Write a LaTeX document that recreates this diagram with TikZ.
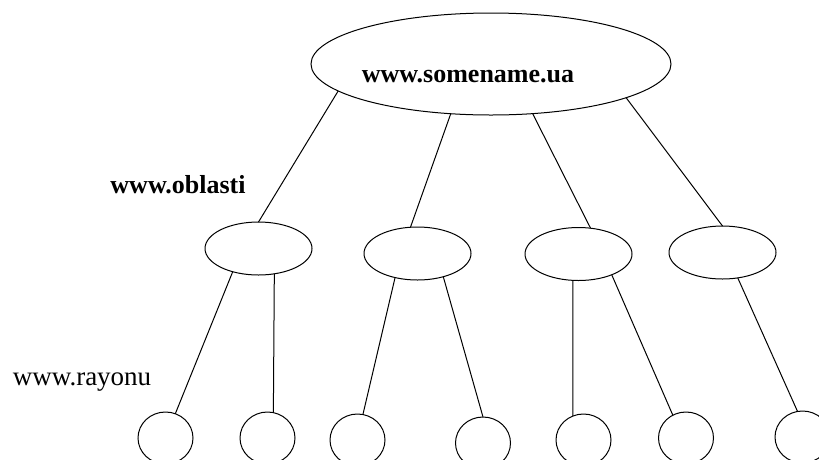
\documentclass[tikz,border=0pt]{standalone}
\usepackage{fontspec}
\setmainfont{Liberation Serif}
\usepackage{tikz}
\usetikzlibrary{shapes.geometric}

\begin{document}
\begin{tikzpicture}[x=1pt, y=-1pt, line width=1pt,
    every node/.style={inner sep=0pt, outer sep=0pt},
    site/.style={draw, ellipse, minimum width=107pt, minimum height=53pt},
    leaf/.style={draw, ellipse, minimum width=55pt, minimum height=52pt},
    caption/.style={font=\fontsize{26}{30}\selectfont\bfseries}]

        \useasboundingbox (0,0) rectangle (819,459);
        \clip (0,0) rectangle (819,459);

        % Root node
        \node[draw, ellipse, minimum width=360pt, minimum height=102pt] (root) at (491,64) {};
        \node[caption] (rootname) at (468,77) {www.somename.ua};

        % Level labels
        \node[caption] (oblasti) at (178,185) {www.oblasti};
        \node[font=\fontsize{27}{30}\selectfont] (rayonu) at (82,382) {www.rayonu};

        % Region nodes
        \node[site] (m1) at (258.5,248.5) {};
        \node[site] (m2) at (417.5,253.5) {};
        \node[site] (m3) at (578.5,254) {};
        \node[site] (m4) at (722.5,252.5) {};

        % District nodes
        \node[leaf] (c1) at (165.5,438) {};
        \node[leaf] (c2) at (267.5,438) {};
        \node[leaf] (c3) at (357.5,440) {};
        \node[leaf] (c4) at (483,443) {};
        \node[leaf] (c5) at (583.5,440) {};
        \node[leaf] (c6) at (686,438) {};
        \node[leaf] (c7) at (802.5,437) {};

        % Connections: root to regions
        \draw (root.190) -- (m1.north);
        \draw (root.231) -- (m2.105);
        \draw (root.310) -- (m3.65);
        \draw (root.346) -- (m4.north);

        % Connections: regions to districts
        \draw (m1.222) -- (c1.68);
        \draw (m1.302) -- (c2.77);
        \draw (m2.227) -- (c3.78);
        \draw (m2.318) -- (c4.north);
        \draw (m3.258) -- (c5.114);
        \draw (m3.328) -- (c6.120);
        \draw (m4.301) -- (c7.101);

    \end{tikzpicture}
\end{document}
